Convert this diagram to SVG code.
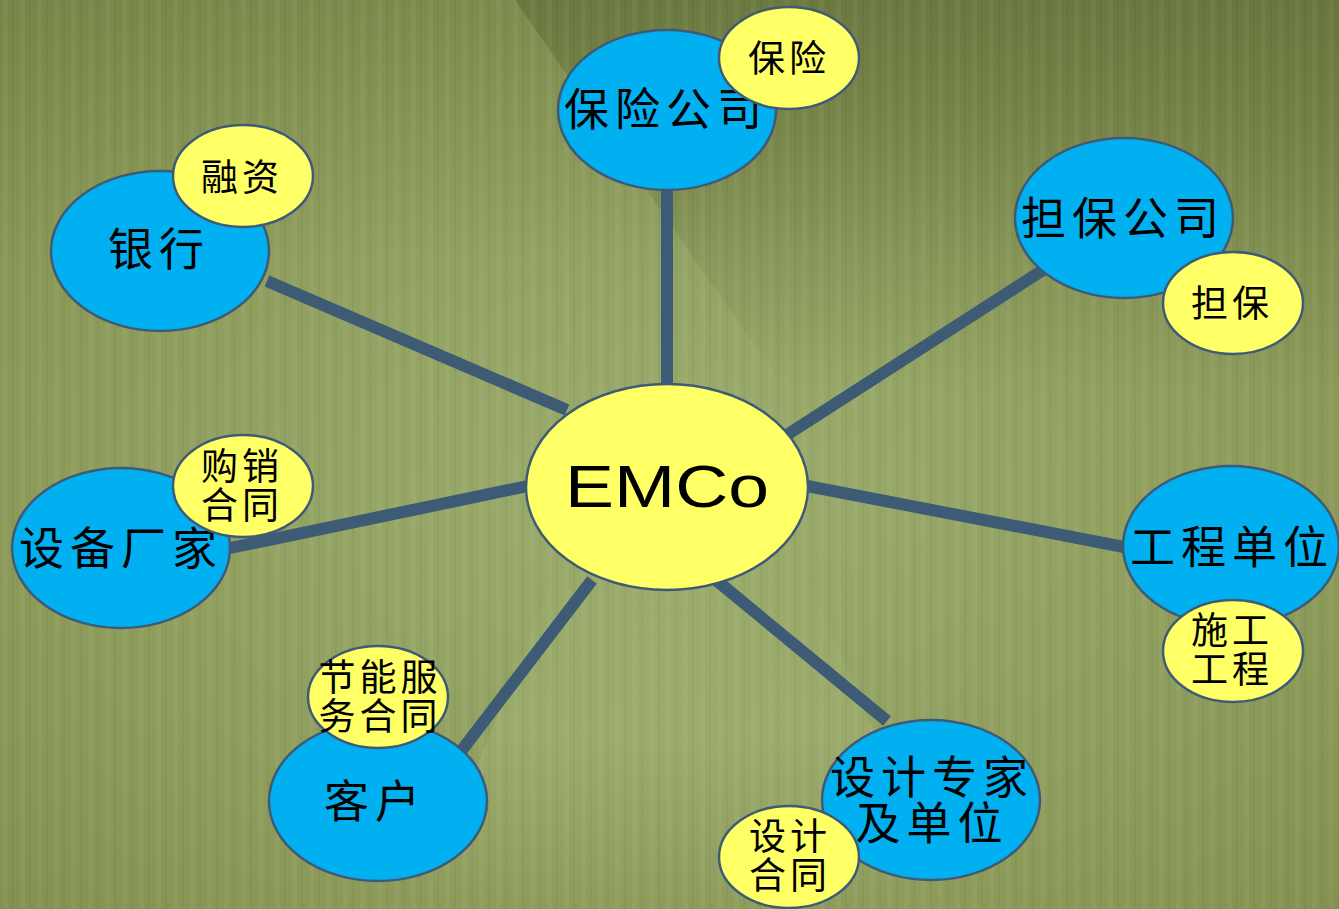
<svg xmlns="http://www.w3.org/2000/svg" width="1339" height="909" viewBox="0 0 1339 909">
<defs>
<radialGradient id="bg" cx="0.5" cy="0.55" r="0.75">
<stop offset="0" stop-color="#9cad6e"/>
<stop offset="0.6" stop-color="#8d9c5b"/>
<stop offset="1" stop-color="#7f8e4d"/>
</radialGradient>
<linearGradient id="dk" x1="0" y1="0" x2="0" y2="1">
<stop offset="0" stop-color="#5d6935" stop-opacity="0.55"/>
<stop offset="0.7" stop-color="#5d6935" stop-opacity="0"/>
</linearGradient>
<linearGradient id="top" x1="0" y1="0" x2="0" y2="1">
<stop offset="0" stop-color="#5d6935" stop-opacity="0.25"/>
<stop offset="1" stop-color="#5d6935" stop-opacity="0"/>
</linearGradient>
<linearGradient id="lt" x1="0" y1="0" x2="0" y2="1">
<stop offset="0" stop-color="#b5c48a" stop-opacity="0"/>
<stop offset="0.5" stop-color="#b5c48a" stop-opacity="0.25"/>
<stop offset="1" stop-color="#b5c48a" stop-opacity="0"/>
</linearGradient>
<pattern id="stripes" width="17" height="909" patternUnits="userSpaceOnUse">
<rect x="3" width="5" height="909" fill="#ffffff" opacity="0.045"/>
<rect x="12" width="2" height="909" fill="#000000" opacity="0.035"/>
</pattern>
<style>
.conn{stroke:#3e5b76;stroke-width:12;fill:none}
.big{fill:#00b0f0;stroke:#3e5b76;stroke-width:2.5}
.small{fill:#ffff66;stroke:#3e5b76;stroke-width:2.5}
.tb{font-family:"Liberation Serif","Noto Sans CJK SC",serif;font-size:45px;letter-spacing:6px;fill:#000;text-anchor:middle}
.ts{font-family:"Liberation Serif","Noto Sans CJK SC",serif;font-size:37px;letter-spacing:4px;fill:#000;text-anchor:middle}
.te{font-family:"Liberation Sans",Arial,sans-serif;font-size:60px;fill:#000;text-anchor:middle}
</style>
</defs>
<rect width="1339" height="909" fill="url(#bg)"/>
<rect width="1339" height="260" fill="url(#top)"/>
<polygon points="515,0 1339,0 1339,560 820,440" fill="url(#dk)"/>
<polygon points="560,560 800,560 950,909 420,909" fill="url(#lt)"/>
<rect width="1339" height="909" fill="url(#stripes)"/>

<g id="connectors">
<line class="conn" x1="667" y1="188" x2="667" y2="385"/>
<line class="conn" x1="267" y1="281" x2="567" y2="410"/>
<line class="conn" x1="1043" y1="270" x2="782" y2="438"/>
<line class="conn" x1="230" y1="548" x2="528" y2="486"/>
<line class="conn" x1="807" y1="486" x2="1124" y2="547"/>
<line class="conn" x1="462" y1="750" x2="592" y2="580"/>
<line class="conn" x1="716" y1="580" x2="887" y2="721"/>
</g>

<g id="emco">
<ellipse class="small" cx="667" cy="487" rx="141" ry="103"/>
<text class="te" x="667" y="507" textLength="204" lengthAdjust="spacingAndGlyphs">EMCo</text>
</g>

<g id="insurance-co">
<ellipse class="big" cx="667" cy="110" rx="109" ry="80"/>
<text class="tb" x="666" y="126">保险公司</text>
</g>
<g id="insurance">
<ellipse class="small" cx="789" cy="58" rx="70" ry="51"/>
<text class="ts" x="789" y="72">保险</text>
</g>

<g id="bank">
<ellipse class="big" cx="160" cy="251" rx="109" ry="80"/>
<text class="tb" x="159" y="266">银行</text>
</g>
<g id="financing">
<ellipse class="small" cx="243" cy="176" rx="70" ry="51"/>
<text class="ts" x="242" y="191">融资</text>
</g>

<g id="guarantee-co">
<ellipse class="big" cx="1124" cy="218" rx="109" ry="80"/>
<text class="tb" x="1123" y="235">担保公司</text>
</g>
<g id="guarantee">
<ellipse class="small" cx="1233" cy="303" rx="70" ry="51"/>
<text class="ts" x="1232" y="317">担保</text>
</g>

<g id="equipment">
<ellipse class="big" cx="121" cy="548" rx="109" ry="80"/>
<text class="tb" x="121" y="565">设备厂家</text>
</g>
<g id="purchase">
<ellipse class="small" cx="243" cy="486" rx="70" ry="51"/>
<text class="ts" x="242" y="480">购销</text>
<text class="ts" x="242" y="519">合同</text>
</g>

<g id="engineering">
<ellipse class="big" cx="1231" cy="546" rx="108" ry="80"/>
<text class="tb" x="1232" y="564">工程单位</text>
</g>
<g id="construction">
<ellipse class="small" cx="1233" cy="651" rx="70" ry="51"/>
<text class="ts" x="1232" y="644">施工</text>
<text class="ts" x="1232" y="683">工程</text>
</g>

<g id="client">
<ellipse class="big" cx="378" cy="801" rx="109" ry="80"/>
<text class="tb" x="375" y="818">客户</text>
</g>
<g id="esc">
<ellipse class="small" cx="378" cy="697" rx="70" ry="51"/>
<text class="ts" x="380" y="691">节能服</text>
<text class="ts" x="380" y="730">务合同</text>
</g>

<g id="design">
<ellipse class="big" cx="931" cy="800" rx="109" ry="80"/>
<text class="tb" x="932" y="794">设计专家</text>
<text class="tb" x="932" y="840">及单位</text>
</g>
<g id="design-contract">
<ellipse class="small" cx="789" cy="857" rx="70" ry="51"/>
<text class="ts" x="790" y="850">设计</text>
<text class="ts" x="790" y="889">合同</text>
</g>
</svg>
